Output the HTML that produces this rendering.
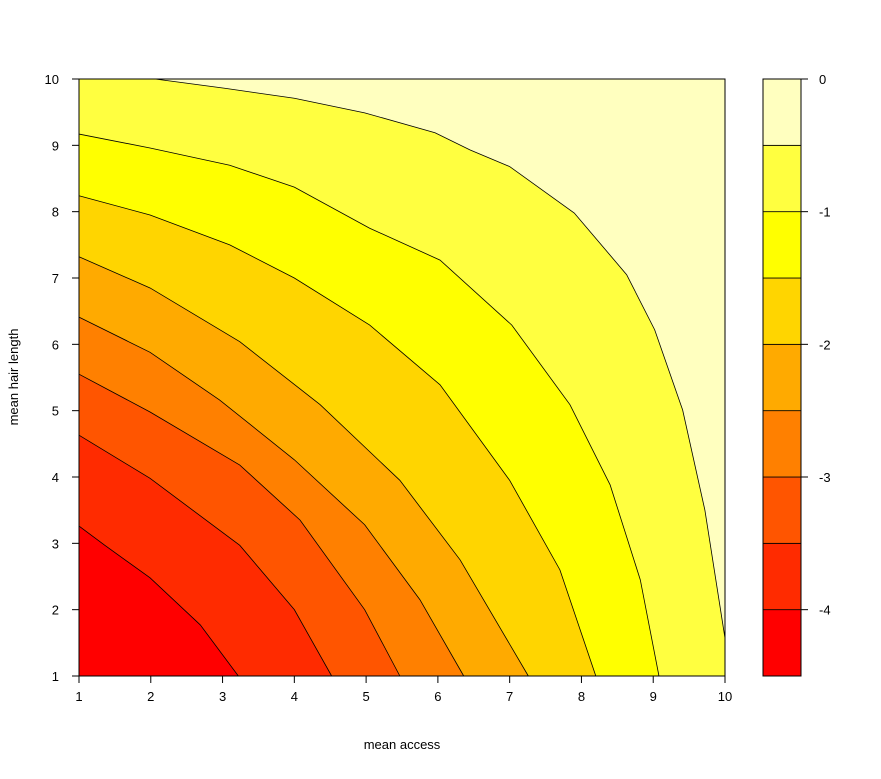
<!DOCTYPE html>
<html><head><meta charset="utf-8"><style>
body{margin:0;background:#fff;}
svg text{font-family:"Liberation Sans",Arial,sans-serif;font-size:13px;fill:#000;}
</style></head><body>
<svg id="c" width="881" height="774" xmlns="http://www.w3.org/2000/svg"></svg>
<script>
const levels=[-0.5,-1,-1.5,-2,-2.5,-3,-3.5,-4];
const bandColors=["#FF0000","#FF2B00","#FF5500","#FF8000","#FFAA00","#FFD500","#FFFF00","#FFFF40","#FFFFBF"];
const bandBreaks=[-4.5,-4,-3.5,-3,-2.5,-2,-1.5,-1,-0.5,0];
const xTicks=[1,2,3,4,5,6,7,8,9,10];
const yTicks=[1,2,3,4,5,6,7,8,9,10];
const legendTicks=[0,-1,-2,-3,-4];
const cM05=[[2.06,10],[3.03,9.86],[4,9.71],[4.98,9.49],[5.96,9.19],[6.45,8.93],[7,8.68],[7.9,7.98],[8.63,7.05],[9.02,6.22],[9.41,5.01],[9.72,3.5],[10,1.57]];
const cM1=[[1,9.17],[1.99,8.96],[3.1,8.7],[4,8.37],[5.05,7.75],[6.03,7.27],[7.03,6.29],[7.84,5.09],[8.4,3.88],[8.82,2.45],[9.08,1]];
const cM15=[[1,8.24],[1.99,7.95],[3.1,7.5],[4,7.0],[5.05,6.29],[6.03,5.39],[7,3.95],[7.7,2.6],[8.2,1]];
const cM2=[[1,7.32],[1.99,6.85],[3.24,6.04],[4.36,5.09],[5.47,3.95],[6.31,2.75],[7.26,1]];
const cM25=[[1,6.41],[1.99,5.88],[2.96,5.16],[4,4.26],[4.98,3.28],[5.75,2.15],[6.36,1]];
const cM3=[[1,5.55],[1.99,4.98],[3.24,4.18],[4.08,3.35],[4.98,2.0],[5.47,1]];
const cM35=[[1,4.63],[1.99,3.98],[3.24,2.97],[4.0,2.0],[4.52,1]];
const cM4=[[1,3.26],[1.36,2.97],[1.99,2.48],[2.69,1.77],[3.22,1]];
const contours=[cM05,cM1,cM15,cM2,cM25,cM3,cM35,cM4];
const L=79,R=725,T=79,B=676;
const sx=v=>L+(v-1)/9*(R-L), sy=v=>B-(v-1)/9*(B-T);
const lgL=763,lgR=801, ly=v=>B-(v+4.5)/4.5*(B-T);
const svg=document.getElementById('c');const NS="http://www.w3.org/2000/svg";
function mk(t,a,txt){const e=document.createElementNS(NS,t);for(const k in a)e.setAttribute(k,a[k]);if(txt!==undefined)e.textContent=txt;svg.appendChild(e);return e;}
let e=mk('rect',{x:L,y:T,width:R-L,height:B-T,fill:bandColors[8]});


contours.forEach((c,i)=>{
  let pts=c.map(p=>[sx(p[0]),sy(p[1])]);
  if(i===0){pts.push([sx(10),sy(1)],[sx(1),sy(1)],[sx(1),sy(10)]);}
  else pts.push([sx(1),sy(1)]);
  const p=mk('polygon',{points:pts.map(q=>q.join(',')).join(' '),fill:bandColors[7-i]});
  
  
});
contours.forEach((c,i)=>{
  const p=mk('polyline',{points:c.map(q=>sx(q[0])+','+sy(q[1])).join(' '),fill:'none',stroke:'#000','stroke-width':0.8});
  
  
});
e=mk('rect',{x:L,y:T,width:R-L,height:B-T,fill:'none',stroke:'#000'});


xTicks.forEach(v=>{
  const l=mk('line',{x1:sx(v),x2:sx(v),y1:B,y2:B+7,stroke:'#000'});
  
  
  const t=mk('text',{x:sx(v),y:B+25,'text-anchor':'middle'},v);
  
  
});
yTicks.forEach(v=>{
  const l=mk('line',{x1:L-7,x2:L,y1:sy(v),y2:sy(v),stroke:'#000'});
  
  
  const t=mk('text',{x:L-20,y:sy(v)+5,'text-anchor':'end'},v);
  
  
});
for(let i=0;i<bandColors.length;i++){
  const r=mk('rect',{x:lgL,y:ly(bandBreaks[i+1]),width:lgR-lgL,height:ly(bandBreaks[i])-ly(bandBreaks[i+1]),fill:bandColors[i],stroke:'#000','stroke-width':0.8});
  
  
}
e=mk('rect',{x:lgL,y:T,width:lgR-lgL,height:B-T,fill:'none',stroke:'#000'});


legendTicks.forEach(v=>{
  const l=mk('line',{x1:lgR,x2:lgR+7,y1:ly(v),y2:ly(v),stroke:'#000'});
  
  
  const t=mk('text',{x:lgR+18,y:ly(v)+5},v);
  
  
});
e=mk('text',{x:402,y:749,'text-anchor':'middle'},'mean access');


e=mk('text',{x:18,y:377,'text-anchor':'middle',transform:'rotate(-90 18 377)'},'mean hair length');


</script>
</body></html>
